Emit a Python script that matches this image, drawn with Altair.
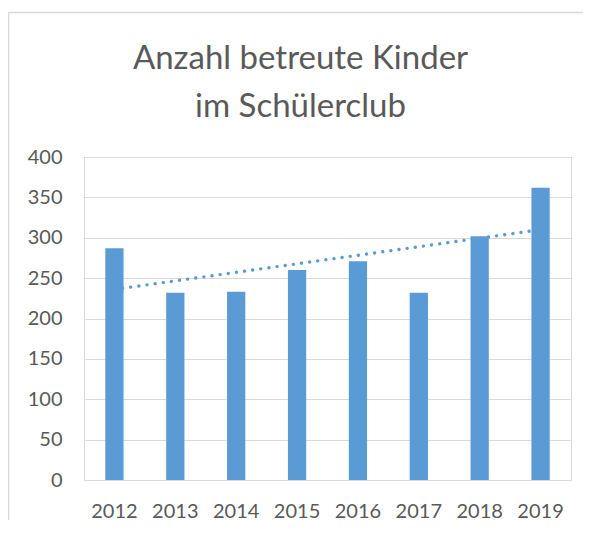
import altair as alt
import pandas as pd

years = ["2012", "2013", "2014", "2015", "2016", "2017", "2018", "2019"]
kinder = [287, 232, 233, 260, 271, 232, 302, 362]

trend_years = ["2012", "2019"]
trend_values = [236, 310]

title_lines = ["Anzahl betreute Kinder", "im Schülerclub"]

bars_df = pd.DataFrame({"Jahr": years, "Kinder": kinder})
trend_df = pd.DataFrame({"Jahr": trend_years, "Kinder": trend_values})

BLUE = "#5B9BD5"
GREY_TEXT = "#595959"
GRID = "#D9D9D9"
FONT = "Lato"

x_enc = alt.X(
    "Jahr:N",
    sort=years,
    title=None,
    scale=alt.Scale(paddingInner=0.7, paddingOuter=0.35),
    axis=alt.Axis(labelAngle=0, domain=False, ticks=False, grid=False,
                  labelFontSize=20, labelColor=GREY_TEXT, labelFont=FONT,
                  labelPadding=21),
)
y_enc = alt.Y(
    "Kinder:Q",
    title=None,
    scale=alt.Scale(domain=[0, 400], nice=False),
    axis=alt.Axis(values=list(range(0, 401, 50)), domain=False, ticks=False,
                  gridColor=GRID, gridWidth=1.2, labelFontSize=20,
                  labelColor=GREY_TEXT, labelFont=FONT, labelPadding=22),
)

trend = alt.Chart(trend_df).mark_line(
    color=BLUE, strokeWidth=3.4, strokeDash=[0.01, 8.2], strokeCap="round"
).encode(x=x_enc, y=y_enc)

bars = alt.Chart(bars_df).mark_bar(color=BLUE).encode(x=x_enc, y=y_enc)

single = alt.Data(values=[{}])
frame_top = alt.Chart(single).mark_rule(color=GRID, strokeWidth=1.5).encode(
    x=alt.value(-75.5), x2=alt.value(620), y=alt.value(-144.5)
)
frame_left = alt.Chart(single).mark_rule(color=GRID, strokeWidth=1.5).encode(
    x=alt.value(-75.5), y=alt.value(-144.5), y2=alt.value(500)
)

title = alt.Chart(single).mark_text(
    font=FONT, fontSize=33, color=GREY_TEXT, align="center",
    baseline="alphabetic", lineHeight=48,
).encode(x=alt.value(216.5), y=alt.value(-88), text=alt.value(title_lines))

chart = alt.layer(trend, bars, frame_top, frame_left, title).properties(
    width=487,
    height=323,
    autosize=alt.AutoSizeParams(type="none"),
    padding={"left": 76, "top": 149, "right": 12, "bottom": 40},
).configure_view(strokeWidth=0, stroke="transparent").configure(background="white")

chart.save("out.html", embed_options={"renderer": "svg", "actions": False})
